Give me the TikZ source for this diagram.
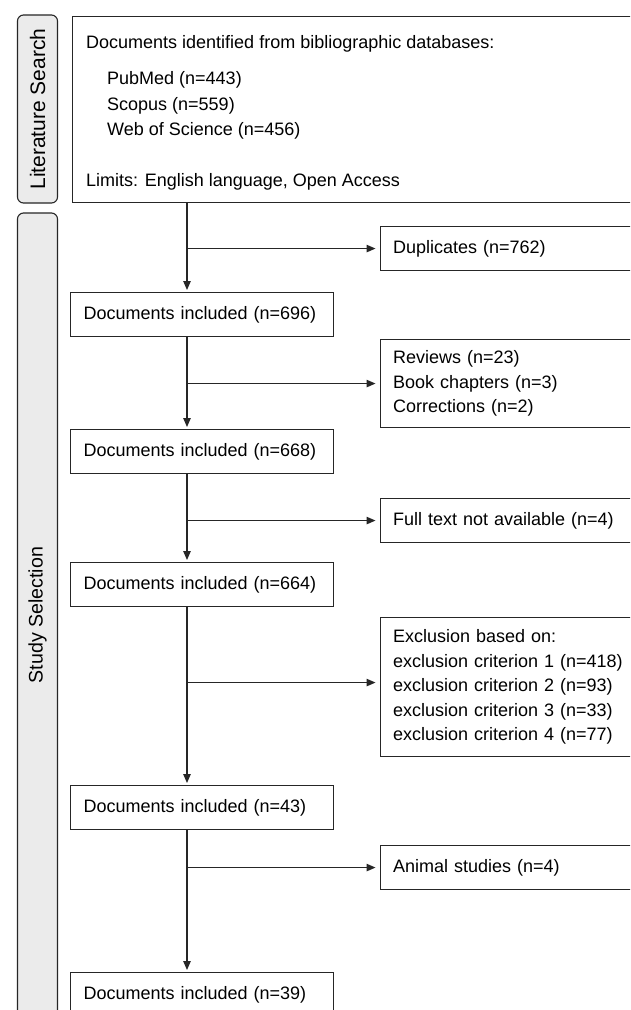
\documentclass[tikz,border=0pt]{standalone}
\usepackage{fontspec}
\setmainfont{Liberation Sans}
\usetikzlibrary{arrows.meta}
\definecolor{ln}{HTML}{262626}
\definecolor{pillfill}{HTML}{EBEBEB}
\begin{document}
\begin{tikzpicture}[x=1pt,y=-1pt,
  font=\fontsize{18}{24.6}\selectfont,
  box/.style={draw=ln, line width=1.1pt, rectangle, anchor=north west, inner ysep=0pt},
  mainbox/.style={box, minimum width=263pt, minimum height=44pt, text width=237pt, inner xsep=13pt, align=left},
  sidebox/.style={box, minimum width=280pt, text width=255pt, inner xsep=12.5pt, align=left},
  pill/.style={draw=ln, line width=1.1pt, fill=pillfill, rounded corners=6pt, rotate=90, minimum height=40pt, inner sep=0pt},
  txt/.style={anchor=base west, inner sep=0pt},
  flow/.style={draw=ln, line width=1.1pt, -{Triangle[length=9pt,width=7.5pt]}},
  vflow/.style={flow, shorten >=2pt},
  hflow/.style={flow, shorten >=4.5pt}
]
\useasboundingbox (0,0) rectangle (630,1010);
\clip (0,0) rectangle (630,1010);
\fill[white] (0,0) rectangle (630,1010);

% side pills
\node[pill, minimum width=188pt, font=\fontsize{21}{24}\selectfont] (lit) at (37.5,109) {Literature Search};
\node[pill, minimum width=804pt, font=\fontsize{19.6}{24}\selectfont] (sel) at (37.5,615) {Study Selection};

% search box
\node[box, minimum width=590pt, minimum height=186pt, inner sep=0pt] (search) at (72,16) {};
\node[txt] (s1) at (86,48.5) {Documents identified from bibliographic databases:};
\node[txt] (s2) at (107,84.5) {PubMed (n=443)};
\node[txt] (s3) at (107,110) {Scopus (n=559)};
\node[txt] (s4) at (107,135) {Web of Science (n=456)};
\node[txt] (s5) at (86,186) {Limits: English language, Open Access};

% main boxes
\node[mainbox] (b1) at (70,292) {Documents included (n=696)};
\node[mainbox] (b2) at (70,429) {Documents included (n=668)};
\node[mainbox] (b3) at (70,562) {Documents included (n=664)};
\node[mainbox] (b4) at (70,785) {Documents included (n=43)};
\node[mainbox] (b5) at (70,972) {Documents included (n=39)};

% side boxes
\node[sidebox, minimum height=44pt] (dup) at (380,226) {Duplicates (n=762)};
\node[sidebox, minimum height=88pt] (rev) at (380,339) {Reviews (n=23)\\Book chapters (n=3)\\Corrections (n=2)};
\node[sidebox, minimum height=44pt] (full) at (380,498) {Full text not available (n=4)};
\node[sidebox, minimum height=139pt] (excl) at (380,617) {Exclusion based on:\\exclusion criterion 1 (n=418)\\exclusion criterion 2 (n=93)\\exclusion criterion 3 (n=33)\\exclusion criterion 4 (n=77)};
\node[sidebox, minimum height=44pt] (anim) at (380,845) {Animal studies (n=4)};

\coordinate (spine) at (187,0);

% main flow
\draw[vflow] (spine |- search.south) -- (spine |- b1.north);
\draw[vflow] (spine |- b1.south) -- (spine |- b2.north);
\draw[vflow] (spine |- b2.south) -- (spine |- b3.north);
\draw[vflow] (spine |- b3.south) -- (spine |- b4.north);
\draw[vflow] (spine |- b4.south) -- (spine |- b5.north);

% branches
\draw[hflow] (spine |- dup.west) -- (dup.west);
\draw[hflow] (spine |- rev.west) -- (rev.west);
\draw[hflow] (spine |- full.west) -- (full.west);
\draw[hflow] ([yshift=4.5pt]spine |- excl.west) -- ([yshift=4.5pt]excl.west);
\draw[hflow] (spine |- anim.west) -- (anim.west);
\end{tikzpicture}
\end{document}
